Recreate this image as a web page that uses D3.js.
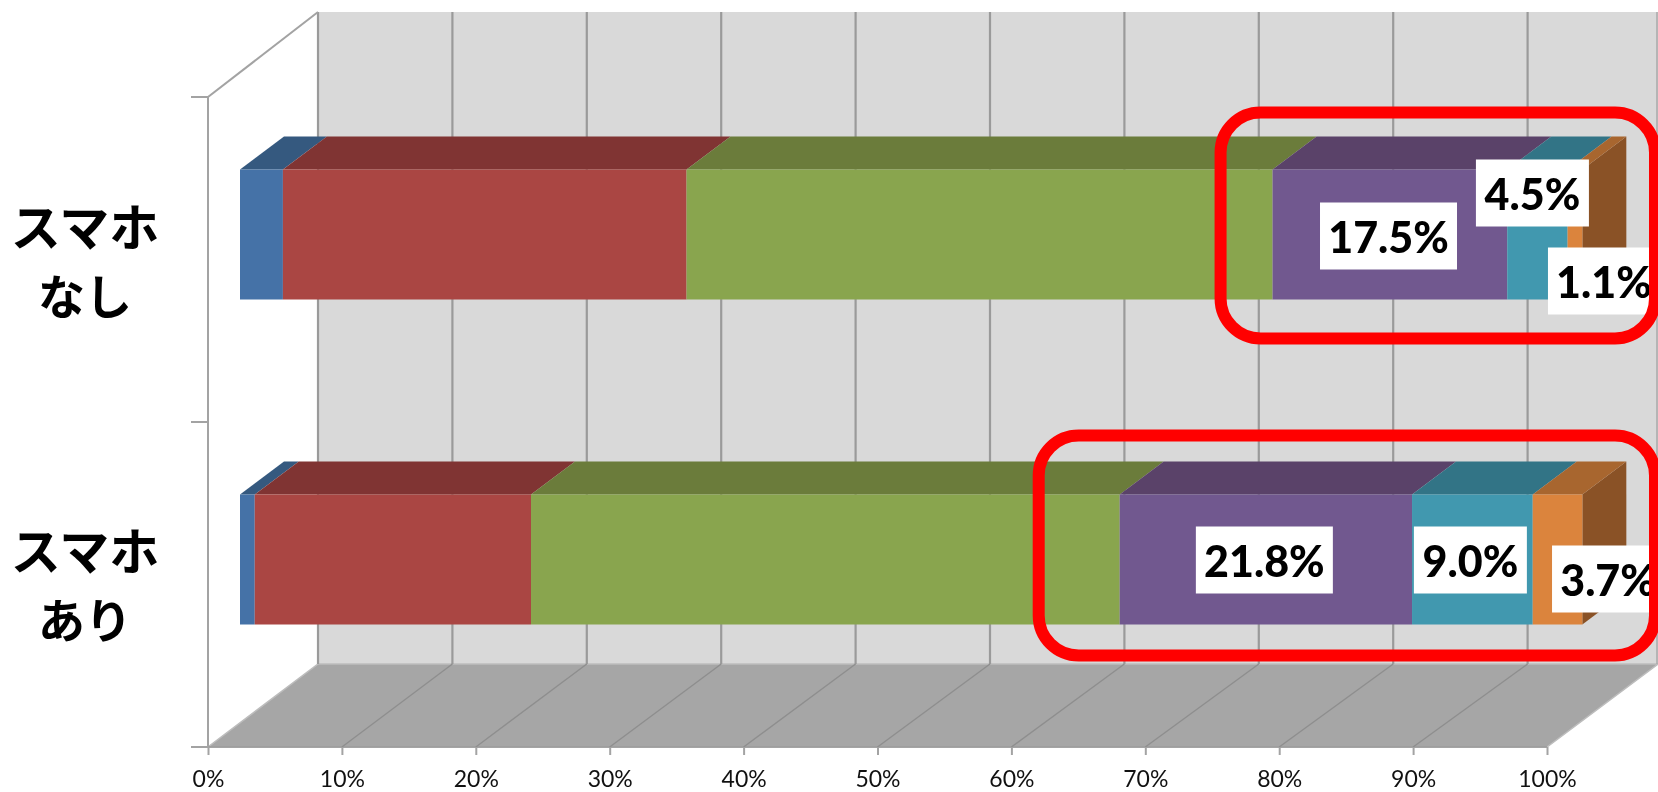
<!DOCTYPE html>
<html><head><meta charset="utf-8">
<style>html,body{margin:0;padding:0;background:#fff;overflow:hidden}svg{display:block;filter:blur(0.4px)}</style>
<script src="https://cdn.jsdelivr.net/npm/d3@7/dist/d3.min.js"></script>
</head><body><svg id="c" width="1658" height="792"></svg>
<script>
// ---- data ----
const categories = ["スマホなし", "スマホあり"];
const categoryLines = [["スマホ", "なし"], ["スマホ", "あり"]];
const seriesKeys = ["a", "b", "c", "d", "e", "f"];
const rowNashi = [3.2, 30.1, 43.7, 17.5, 4.5, 1.1];
const rowAri = [1.1, 20.6, 43.9, 21.8, 9.0, 3.7];
const labelledSeries = [3, 4, 5];
const tickValues = [0, 10, 20, 30, 40, 50, 60, 70, 80, 90, 100];
const frontColors = ["#4572A7", "#AA4643", "#89A54E", "#71588F", "#4198AF", "#DB843D"];
const topColors = ["#35597F", "#803433", "#6B7C3B", "#5A4269", "#327486", "#A8662F"];
const sideColor = "#8A5226";
const rows = [rowNashi, rowAri];

// ---- layout ----
const svg = d3.select("#c");
const axisFront = d3.scaleLinear().domain([0, 100]).range([208, 1547]);
const axisBack = d3.scaleLinear().domain([0, 100]).range([318, 1662]);
const barFront = d3.scaleLinear().domain([0, 100]).range([240, 1581]);
const yBand = d3.scaleBand().domain(categories).range([97, 747]);
const floorBack = 664, wallTop = 12, wallRight = 1657, frontBottom = 747, frontTop = 97;
const barH = 130, barDX = 44, barDY = 33, barShift = -25;
const pts = a => a.map(p => p.join(",")).join(" ");
const innerTicks = tickValues.filter(d => d < 100);

// wall and floor
svg.append("polygon").attr("fill", "#D9D9D9")
  .attr("points", pts([[axisBack(0), wallTop], [1658, wallTop], [1658, floorBack], [axisBack(0), floorBack]]));
svg.append("polygon").attr("fill", "#A6A6A6").attr("stroke", "#BDBDBD").attr("stroke-width", 1.5)
  .attr("points", pts([[axisFront(0), frontBottom], [axisFront(100), frontBottom], [wallRight + 1, floorBack], [axisBack(0), floorBack]]));
svg.append("line").attr("x1", axisFront(0)).attr("x2", axisFront(100)).attr("y1", frontBottom).attr("y2", frontBottom)
  .attr("stroke", "#969696").attr("stroke-width", 1.5);

// gridlines
svg.append("g").selectAll("line").data(innerTicks).join("line")
  .attr("x1", d => axisBack(d)).attr("x2", d => axisBack(d))
  .attr("y1", wallTop).attr("y2", floorBack)
  .attr("stroke", "#9A9A9A").attr("stroke-width", 2.2);
svg.append("line").attr("x1", wallRight).attr("x2", wallRight).attr("y1", wallTop).attr("y2", floorBack)
  .attr("stroke", "#A8A8A8").attr("stroke-width", 1.5);
svg.append("g").selectAll("line").data(innerTicks.slice(1)).join("line")
  .attr("x1", d => axisBack(d)).attr("x2", d => axisFront(d))
  .attr("y1", floorBack).attr("y2", frontBottom)
  .attr("stroke", "#8E8E8E").attr("stroke-width", 1.4);

// left side edges and category ticks
const axisColor = "#A3A3A3";
const g0 = svg.append("g").attr("stroke", axisColor).attr("stroke-width", 2).attr("fill", "none");
g0.append("line").attr("x1", axisFront(0)).attr("x2", axisFront(0)).attr("y1", frontTop).attr("y2", frontBottom);
g0.append("line").attr("x1", axisFront(0)).attr("x2", axisBack(0)).attr("y1", frontTop).attr("y2", wallTop);
g0.selectAll("line.t").data(d3.range(categories.length + 1)).join("line").attr("class", "t")
  .attr("x1", 191).attr("x2", axisFront(0))
  .attr("y1", i => yBand.range()[0] + i * yBand.step())
  .attr("y2", i => yBand.range()[0] + i * yBand.step());

// x axis
const xAxis = d3.axisBottom(axisFront).tickValues(tickValues).tickSize(8).tickFormat(d => d + "%");
const gx = svg.append("g").attr("transform", `translate(0,${frontBottom})`).call(xAxis);
gx.select(".domain").remove();
gx.selectAll(".tick line").attr("stroke", axisColor).attr("stroke-width", 2);
gx.selectAll(".tick text").attr("font-family", "Lato, sans-serif").attr("font-size", 23).attr("fill", "#111")
  .attr("y", 40).attr("dy", 0);

// stacked bars
const stack = d3.stack().keys(seriesKeys);
const table = rows.map(r => Object.fromEntries(seriesKeys.map((k, i) => [k, r[i]])));
const stacked = stack(table);
const yTop = c => yBand(c) + yBand.bandwidth() / 2 + barShift - barH / 2;

categories.forEach((cat, ci) => {
  const y = yTop(cat);
  const g = svg.append("g");
  const end = barFront(d3.sum(rows[ci]));
  g.append("polygon").attr("fill", sideColor)
    .attr("points", pts([[end, y], [end + barDX, y - barDY], [end + barDX, y - barDY + barH], [end, y + barH]]));
  stacked.forEach((s, si) => {
    const [a, b] = s[ci];
    g.append("polygon").attr("fill", topColors[si])
      .attr("points", pts([[barFront(a), y], [barFront(b), y], [barFront(b) + barDX, y - barDY], [barFront(a) + barDX, y - barDY]]));
    g.append("rect").attr("fill", frontColors[si])
      .attr("x", barFront(a)).attr("y", y).attr("width", barFront(b) - barFront(a)).attr("height", barH);
  });
});

// value labels: offset of each white box centre from its segment centre (layout only)
const labelNudge = [
  [[-1.4, 1.5], [-5, -41.5], [29, 46.5]],
  [[-1.5, 0.5], [-2, 0.5], [50.5, 19.5]]
];
const boxSizes = [[[137, 67], [113, 67], [112, 67]], [[137, 67], [113, 67], [112, 67]]];
categories.forEach((cat, ci) => {
  const y = yTop(cat);
  labelledSeries.forEach((si, li) => {
    const [a, b] = stacked[si][ci];
    const cx = (barFront(a) + barFront(b)) / 2 + labelNudge[ci][li][0];
    const cy = y + barH / 2 + labelNudge[ci][li][1];
    const [w, h] = boxSizes[ci][li];
    svg.append("rect").attr("fill", "#fff").attr("x", cx - w / 2).attr("y", cy - h / 2).attr("width", w).attr("height", h);
    svg.append("text").attr("x", cx).attr("y", cy + 16.5).attr("text-anchor", "middle")
      .attr("font-family", "Lato, sans-serif").attr("font-weight", 900).attr("font-size", 43).attr("fill", "#000")
      .text(rows[ci][si].toFixed(1) + "%");
  });
});

// red highlight frames, running from the purple segment to the right edge
const frameTopPad = [57, 59], frameBottomPad = [39, 31], frameLeftPad = [52, 81];
categories.forEach((cat, ci) => {
  const y = yTop(cat);
  const left = barFront(stacked[3][ci][0]) - frameLeftPad[ci];
  const top = y - frameTopPad[ci], bottom = y + barH + frameBottomPad[ci];
  svg.append("rect").attr("fill", "none").attr("stroke", "#FF0000").attr("stroke-width", 12)
    .attr("x", left).attr("y", top).attr("width", 1655 - left).attr("height", bottom - top)
    .attr("rx", 40).attr("ry", 40);
});

// category labels
const catBaseline = [246, 570];
const lineFont = [50, 47];
categories.forEach((cat, ci) => {
  categoryLines[ci].forEach((ln, i) => {
    svg.append("text").attr("text-anchor", "middle")
      .attr("font-family", "'Noto Sans CJK JP', sans-serif").attr("font-weight", 700)
      .attr("font-size", lineFont[i]).attr("fill", "#000")
      .attr("x", 85).attr("y", catBaseline[ci] + i * 68).text(ln);
  });
});
</script></body></html>
